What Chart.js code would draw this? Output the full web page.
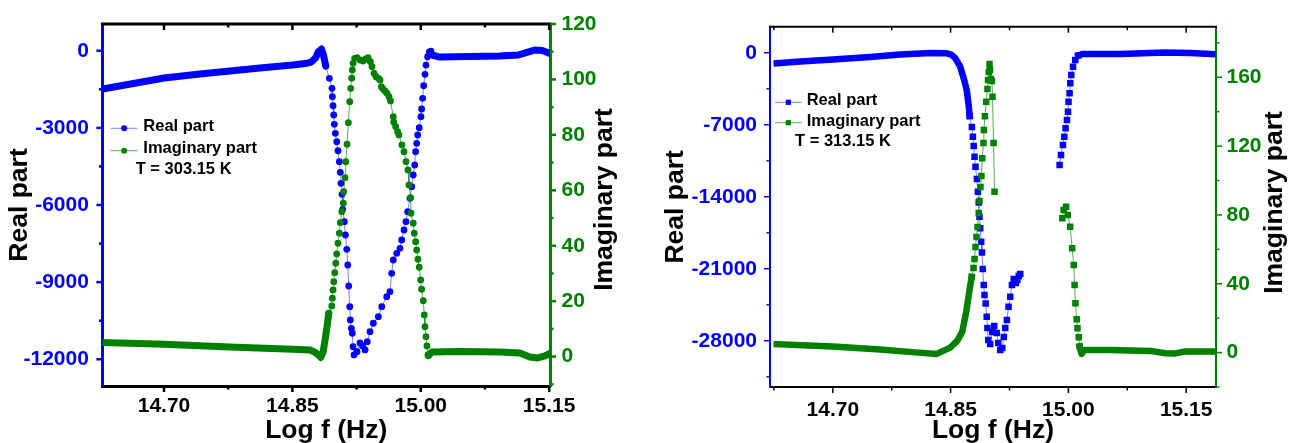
<!DOCTYPE html>
<html>
<head>
<meta charset="utf-8">
<script src="https://cdn.jsdelivr.net/npm/chart.js@4"></script>
<style>
  body { margin: 0; background: #fff; }
  #wrap { position: relative; width: 1291px; height: 443px; }
  canvas { position: absolute; top: 0; }
</style>
</head>
<body>
<div id="wrap">
  <canvas id="c303" width="650" height="443" style="left:0"></canvas>
  <canvas id="c313" width="641" height="443" style="left:650px"></canvas>
</div>
<script>
// ---- T = 303.15 K ----
// dense runs of markers (drawn as a thick band)
const re303BandX = [14.628, 14.661, 14.700, 14.742, 14.777, 14.812, 14.850, 14.865, 14.872, 14.877, 14.880, 14.884, 14.886, 14.889, null, 15.014, 15.022, 15.057, 15.092, 15.114, 15.125, 15.133, 15.142, 15.151];
const re303BandY = [-1489, -1295, -1062, -906, -789, -673, -556, -498, -439, -284, -51, 66, -128, -595, null, -167, -245, -226, -206, -167, -51, 27, 8, -109];
// separated markers
const re303DotX = [14.8890, 14.8932, 14.8963, 14.8967, 14.8975, 14.8983, 14.8990, 14.9002, 14.9018, 14.9033, 14.9049, 14.9060, 14.9068, 14.9080, 14.9088, 14.9107, 14.9119, 14.9135, 14.9147, 14.9158, 14.9170, 14.9177, 14.9189, 14.9200, 14.9209, 14.9220, 14.9255, 14.9290, 14.9319, 14.9349, 14.9375, 14.9407, 14.9446, 14.9504, 14.9544, 14.9602, 14.9640, 14.9660, 14.9679, 14.9719, 14.9757, 14.9777, 14.9804, 14.9827, 14.9847, 14.9874, 14.9894, 14.9912, 14.9929, 14.9940, 14.9952, 14.9964, 14.9982, 15.0002, 15.0010, 15.0022, 15.0034, 15.0049, 15.0061, 15.0080, 15.0099, 15.0119, 15.0142];
const re303DotY = [-595, -1073, -1462, -1789, -2139, -2500, -2862, -3212, -3539, -3889, -4316, -4728, -5156, -5584, -6167, -6649, -7167, -7723, -8333, -9150, -9955, -10472, -10795, -10989, -11510, -11833, -11705, -11366, -11483, -11638, -11316, -10927, -10600, -10343, -9955, -9566, -9371, -8656, -8139, -7878, -7684, -7361, -6972, -6649, -6261, -5739, -5288, -4833, -4445, -3927, -3601, -3278, -2994, -2566, -2267, -1851, -1361, -918, -556, -233, -51, -12, -167];
const im303BandX = [14.628, 14.700, 14.777, 14.850, 14.8707, 14.8777, 14.8832, 14.8859, 14.8882, 14.8905, 14.8925, null, 15.0090, 15.0131, 15.0458, 15.0924, 15.1158, 15.1275, 15.1368, 15.1450, 15.1508];
const im303BandY = [5.05, 4.47, 3.50, 2.67, 2.42, 1.33, -0.29, 1.70, 6.02, 10.82, 15.65, null, 0.43, 1.70, 1.88, 1.70, 1.33, -0.11, -0.47, 0.25, 1.15];
const im303DotX = [14.8925, 14.8960, 14.8967, 14.8975, 14.8983, 14.8995, 14.9007, 14.9018, 14.9033, 14.9049, 14.9060, 14.9077, 14.9095, 14.9100, 14.9115, 14.9123, 14.9139, 14.9154, 14.9170, 14.9182, 14.9193, 14.9200, 14.9209, 14.9228, 14.9255, 14.9290, 14.9325, 14.9357, 14.9384, 14.9411, 14.9430, 14.9454, 14.9477, 14.9506, 14.9524, 14.9539, 14.9559, 14.9582, 14.9605, 14.9629, 14.9646, 14.9679, 14.9684, 14.9707, 14.9730, 14.9745, 14.9780, 14.9804, 14.9827, 14.9851, 14.9862, 14.9882, 14.9886, 14.9912, 14.9924, 14.9940, 14.9952, 14.9967, 14.9982, 14.9999, 15.0010, 15.0029, 15.0041, 15.0049, 15.0061, 15.0072, 15.0084, 15.0090];
const im303DotY = [15.65, 18.29, 21.07, 24.06, 27.05, 30.30, 33.69, 37.04, 40.90, 44.51, 48.33, 52.30, 55.33, 59.52, 64.57, 70.34, 76.61, 84.40, 91.98, 96.81, 100.42, 103.41, 105.83, 107.63, 107.85, 107.02, 106.66, 107.38, 107.85, 106.41, 104.60, 102.22, 101.00, 100.35, 99.81, 97.39, 96.56, 95.84, 95.01, 93.78, 92.23, 86.57, 84.55, 82.96, 81.16, 79.97, 76.36, 73.94, 70.34, 67.34, 61.93, 57.35, 51.72, 48.12, 44.51, 41.48, 38.49, 35.13, 32.25, 27.67, 24.31, 20.20, 15.04, 10.82, 7.21, 3.86, 0.61, 0.43];

// ---- T = 313.15 K ----
const re313BandX = [14.6286, 14.6583, 14.700, 14.7475, 14.7858, 14.8240, 14.8453, 14.8510, 14.8559, 14.8622, 14.8673, 14.8705, 14.8731, 14.8743, null, 15.0126, 15.0177, 15.0662, 15.1235, 15.1554, 15.1834];
const re313BandY = [-1031, -856, -661, -418, -175, -29, -58, -200, -515, -1361, -2654, -3626, -5182, -6154, null, -272, -126, -126, 19, -29, -126];
const re313DotX = [14.8743, 14.8771, 14.8784, 14.8794, 14.8805, 14.8817, 14.8835, 14.8848, 14.8858, 14.8868, 14.8877, 14.8890, 14.8899, 14.8909, 14.8922, 14.8932, 14.8947, 14.8960, 14.8969, 14.8979, 14.9005, 14.9030, 14.9056, 14.9087, 14.9107, 14.9132, 14.9158, 14.9177, 14.9196, 14.9217, 14.9238, 14.9260, 14.9281, 14.9304, 14.9330, 14.9349, 14.9368, 14.9387, null, 14.9888, 14.9906, 14.9931, 14.9948, 14.9964, 14.9982, 14.9995, 15.0002, 15.0015, 15.0024, 15.0037, 15.0059, 15.0088, 15.0126];
const re313DotY = [-6154, -7223, -8166, -9071, -10111, -11083, -12279, -13514, -14564, -15944, -17072, -18374, -19424, -21029, -22584, -23557, -24383, -25666, -26765, -27931, -28320, -27154, -26570, -27251, -28223, -28904, -28709, -27640, -26765, -25987, -24694, -23722, -22584, -22001, -22390, -22098, -21709, -21514, null, -10918, -9946, -8973, -8166, -7350, -6543, -5736, -4764, -3947, -2975, -2168, -1361, -710, -272];
const im313BandX = [14.6286, 14.700, 14.7603, 14.8049, 14.8323, 14.8495, 14.8584, 14.8648, 14.8699, 14.8741, 14.8769, null, 15.0143, 15.0168, 15.0205, 15.0534, 15.1044, 15.1235, 15.1362, 15.1490, 15.1834];
const im313BandY = [4.88, 3.49, 1.86, 0.12, -0.76, 2.90, 6.80, 12.03, 23.65, 36.43, 43.98, null, 3.49, -0.76, 1.57, 1.57, 0.99, -0.35, -0.46, 0.70, 0.70];
const im313DotX = [14.8769, 14.8792, 14.8805, 14.8817, 14.8830, 14.8843, 14.8858, 14.8868, 14.8880, 14.8892, 14.8903, 14.8919, 14.8924, 14.8937, 14.8954, 14.8969, 14.8977, 14.8986, 14.8996, 14.9002, 14.9014, 14.9026, 14.9034, 14.9047, 14.9059, null, 14.9923, 14.9939, 14.9971, 14.9992, 15.0023, 15.0048, 15.0069, 15.0079, 15.0090, 15.0106, 15.0116, 15.0132, 15.0143];
const im313DotY = [43.98, 49.21, 54.44, 61.41, 67.22, 73.03, 81.16, 88.13, 96.27, 102.66, 112.94, 121.83, 129.38, 137.34, 145.82, 153.20, 158.43, 163.08, 167.73, 164.24, 159.01, 157.85, 148.73, 121.83, 93.54, null, 78.08, 82.90, 84.82, 80.00, 73.20, 60.65, 50.95, 39.33, 28.70, 19.40, 14.18, 8.95, 3.49];

// ---- ticks ----
const xMajor = [14.70, 14.85, 15.00, 15.15];
const xMinor303 = [14.775, 14.925, 15.075];
const xMinor313 = [14.625, 14.775, 14.925, 15.075];
const re303Major = [0, -3000, -6000, -9000, -12000];
const re303Minor = [-1500, -4500, -7500, -10500];
const im303Major = [0, 20, 40, 60, 80, 100, 120];
const im303Minor = [-10, 10, 30, 50, 70, 90, 110];
const re313Major = [0, -7000, -14000, -21000, -28000];
const re313Minor = [-3500, -10500, -17500, -24500, -31500];
const im313Major = [0, 40, 80, 120, 160];
const im313Minor = [-20, 20, 60, 100, 140, 180];

const BLUE = '#0000ff';
const GREEN = '#008000';
const FONT = "'Liberation Sans', Arial, sans-serif";

const pts = (xs, ys) => xs.map((x, i) => ({x: x, y: ys[i]}));

// tick marks on all sides, legend, note and right-hand title
const decor = {
  id: 'decor',
  afterDraw(chart, args, opts) {
    const ctx = chart.ctx;
    const sx = chart.scales.x, sy = chart.scales.y, sy2 = chart.scales.y2;
    // frame edges taken from the scales themselves
    const left = sx.getPixelForValue(sx.min), right = sx.getPixelForValue(sx.max);
    const top = sy.getPixelForValue(sy.max), bottom = sy.getPixelForValue(sy.min);
    const tw = opts.tickWidth;
    ctx.save();
    ctx.fillStyle = '#000';
    const xTick = (v, len) => {
      const p = sx.getPixelForValue(v);
      ctx.fillRect(p - tw / 2, bottom, tw, len);
      ctx.fillRect(p - tw / 2, top, tw, len);
    };
    opts.xMajor.forEach(v => xTick(v, 6));
    opts.xMinor.forEach(v => xTick(v, 3.5));
    ctx.fillStyle = BLUE;
    const yTick = (v, len) => ctx.fillRect(left - len, sy.getPixelForValue(v) - tw / 2, len, tw);
    opts.yMajor.forEach(v => yTick(v, 6));
    opts.yMinor.forEach(v => yTick(v, 3.5));
    ctx.fillStyle = GREEN;
    const y2Tick = (v, len) => ctx.fillRect(right, sy2.getPixelForValue(v) - tw / 2, len, tw);
    opts.y2Major.forEach(v => y2Tick(v, 6));
    opts.y2Minor.forEach(v => y2Tick(v, 3.5));

    ctx.font = 'bold 16.5px ' + FONT;
    ctx.textBaseline = 'middle';
    opts.items.forEach(it => {
      const ds = chart.data.datasets[it.dataset];
      ctx.strokeStyle = ds.borderColor;
      ctx.lineWidth = 1;
      ctx.beginPath();
      ctx.moveTo(it.x0, it.y);
      ctx.lineTo(it.x1, it.y);
      ctx.stroke();
      ctx.fillStyle = ds.pointBackgroundColor;
      const cx = (it.x0 + it.x1) / 2;
      ctx.beginPath();
      if (ds.pointStyle === 'rect') {
        ctx.rect(cx - opts.marker, it.y - opts.marker, opts.marker * 2, opts.marker * 2);
      } else {
        ctx.arc(cx, it.y, opts.marker, 0, Math.PI * 2);
      }
      ctx.fill();
      ctx.fillStyle = '#000';
      ctx.fillText(ds.label, it.tx, it.ty);
    });
    ctx.fillText(opts.note.text, opts.note.x, opts.note.y);

    // right axis title, read bottom to top like the left one
    const t = opts.rightTitle;
    ctx.font = 'bold 26.5px ' + FONT;
    ctx.textAlign = 'center';
    ctx.translate(t.x, t.y);
    ctx.rotate(-Math.PI / 2);
    ctx.fillText(t.text, 0, 0);
    ctx.restore();
  }
};

function makeChart(id, cfg) {
  const tickFont = {family: FONT, size: 21, weight: 'bold'};
  const titleFont = {family: FONT, size: 26.5, weight: 'bold', lineHeight: 0.9};
  const noPad = s => { s.paddingTop = 0; s.paddingBottom = 0; };
  return new Chart(document.getElementById(id), {
    type: 'scatter',
    data: {
      datasets: [
        {label: 'Imaginary part', data: pts(cfg.imDotX, cfg.imDotY), yAxisID: 'y2', order: 1,
         showLine: true, borderColor: 'rgba(0,128,0,0.65)', borderWidth: 1,
         pointStyle: cfg.pointStyle, pointRadius: cfg.radius, pointBackgroundColor: GREEN, pointBorderWidth: 0},
        {label: 'im band', data: pts(cfg.imBandX, cfg.imBandY), yAxisID: 'y2', order: 2,
         showLine: true, borderColor: GREEN, borderWidth: cfg.band, pointRadius: 0,
         borderCapStyle: cfg.cap, borderJoinStyle: 'round'},
        {label: 'Real part', data: pts(cfg.reDotX, cfg.reDotY), yAxisID: 'y', order: 3,
         showLine: true, borderColor: 'rgba(40,40,255,0.6)', borderWidth: 1,
         pointStyle: cfg.pointStyle, pointRadius: cfg.radius, pointBackgroundColor: BLUE, pointBorderWidth: 0},
        {label: 're band', data: pts(cfg.reBandX, cfg.reBandY), yAxisID: 'y', order: 4,
         showLine: true, borderColor: BLUE, borderWidth: cfg.band, pointRadius: 0,
         borderCapStyle: cfg.cap, borderJoinStyle: 'round'},
        // top edge of the frame, running along the upper limit of the left axis
        {label: 'frame', data: [{x: cfg.xMin, y: cfg.reMax}, {x: cfg.xMax, y: cfg.reMax}], yAxisID: 'y', order: 0,
         showLine: true, borderColor: '#000', borderWidth: cfg.decor.frame, pointRadius: 0,
         borderCapStyle: 'square', clip: 10}
      ]
    },
    options: {
      responsive: false,
      animation: false,
      devicePixelRatio: 1,
      events: [],
      layout: {padding: {top: cfg.top, left: 0, right: 0, bottom: 0}},
      plugins: {
        legend: {display: false},
        tooltip: {enabled: false},
        decor: cfg.decor
      },
      scales: {
        x: {
          type: 'linear', position: 'bottom', min: cfg.xMin, max: cfg.xMax,
          afterBuildTicks: s => { s.ticks = xMajor.map(v => ({value: v})); },
          afterFit: s => { s.height = cfg.bottomH; },
          ticks: {font: tickFont, color: '#000', padding: cfg.xPad, maxRotation: 0, autoSkip: false,
                  callback: v => v.toFixed(2)},
          grid: {display: false, drawTicks: false},
          border: {color: '#000', width: cfg.decor.frame},
          title: {display: true, text: 'Log f (Hz)', color: '#000', font: titleFont, padding: 0}
        },
        y: {
          type: 'linear', position: 'left', min: cfg.reMin, max: cfg.reMax,
          afterBuildTicks: s => { s.ticks = cfg.decor.yMajor.map(v => ({value: v})); },
          afterFit: s => { s.width = cfg.leftW; noPad(s); },
          ticks: {font: tickFont, color: BLUE, padding: cfg.yPad, callback: v => String(v)},
          grid: {display: false, drawTicks: false},
          border: {color: BLUE, width: cfg.decor.frame},
          title: {display: true, text: 'Real part', color: '#000', font: titleFont,
                  padding: {top: cfg.titlePad, bottom: 0}}
        },
        y2: {
          type: 'linear', position: 'right', min: cfg.imMin, max: cfg.imMax,
          afterBuildTicks: s => { s.ticks = cfg.decor.y2Major.map(v => ({value: v})); },
          afterFit: s => { s.width = cfg.rightW; noPad(s); },
          ticks: {font: tickFont, color: GREEN, padding: cfg.y2Pad, callback: v => String(v)},
          grid: {display: false, drawTicks: false},
          border: {color: GREEN, width: cfg.decor.frame}
        }
      }
    },
    plugins: [decor]
  });
}

makeChart('c303', {
  reBandX: re303BandX, reBandY: re303BandY, reDotX: re303DotX, reDotY: re303DotY,
  imBandX: im303BandX, imBandY: im303BandY, imDotX: im303DotX, imDotY: im303DotY,
  xMin: 14.628, xMax: 15.151, reMin: -13040, reMax: 1040, imMin: -10.6, imMax: 120,
  top: 24, leftW: 102.4, rightW: 100, bottomH: 57,
  xPad: 8, yPad: 13.5, y2Pad: 11.5, titlePad: 8,
  pointStyle: 'circle', radius: 3.4, band: 7, cap: 'round',
  decor: {
    frame: 3, tickWidth: 2.5, marker: 3,
    xMajor: xMajor, xMinor: xMinor303,
    yMajor: re303Major, yMinor: re303Minor, y2Major: im303Major, y2Minor: im303Minor,
    items: [
      {dataset: 2, x0: 110.7, x1: 137.7, y: 128.3, tx: 143.3, ty: 126},
      {dataset: 0, x0: 110.7, x1: 137.7, y: 150.7, tx: 143.3, ty: 148.3}
    ],
    note: {text: 'T = 303.15 K', x: 135.7, y: 169},
    rightTitle: {text: 'Imaginary part', x: 604.5, y: 199.5}
  }
});

makeChart('c313', {
  reBandX: re313BandX, reBandY: re313BandY, reDotX: re313DotX, reDotY: re313DotY,
  imBandX: im313BandX, imBandY: im313BandY, imDotX: im313DotX, imDotY: im313DotY,
  xMin: 14.620, xMax: 15.188, reMin: -32500, reMax: 2528, imMin: -20, imMax: 189.4,
  top: 26.7, leftW: 120, rightW: 75, bottomH: 56,
  xPad: 10.4, yPad: 13, y2Pad: 10.5, titlePad: 14,
  pointStyle: 'rect', radius: 4.6, band: 6.5, cap: 'square',
  decor: {
    frame: 2, tickWidth: 1.5, marker: 2.6,
    xMajor: xMajor, xMinor: xMinor313,
    yMajor: re313Major, yMinor: re313Minor, y2Major: im313Major, y2Minor: im313Minor,
    items: [
      {dataset: 2, x0: 125, x1: 151.7, y: 102.3, tx: 156.7, ty: 100},
      {dataset: 0, x0: 125, x1: 151.7, y: 122.7, tx: 156.7, ty: 121}
    ],
    note: {text: 'T = 313.15 K', x: 145, y: 141.7},
    rightTitle: {text: 'Imaginary part', x: 624.8, y: 202.5}
  }
});
</script>
</body>
</html>
